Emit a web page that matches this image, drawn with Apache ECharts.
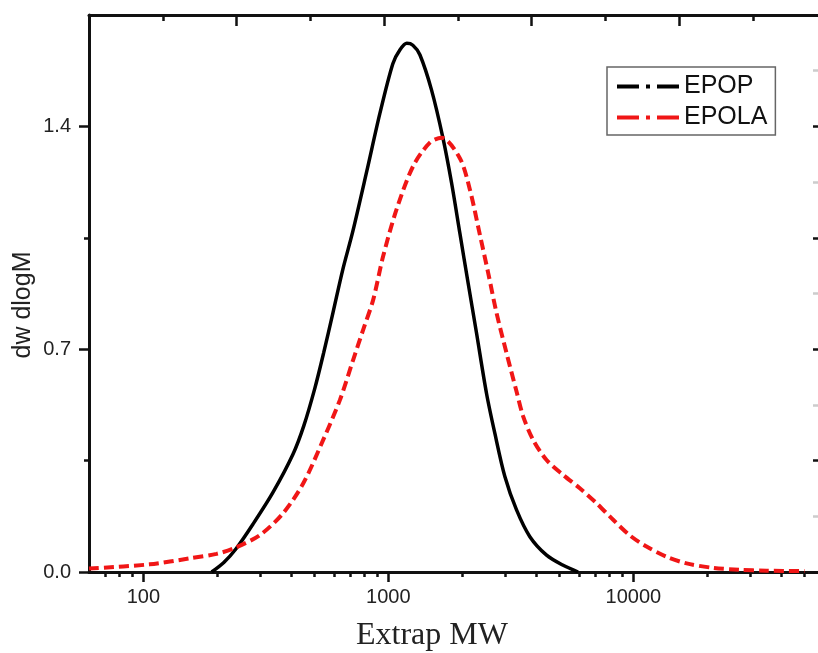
<!DOCTYPE html>
<html>
<head>
<meta charset="utf-8">
<script src="https://cdn.jsdelivr.net/npm/echarts@6/dist/echarts.min.js"></script>
<style>
html,body{margin:0;padding:0;background:#fff;}
#c{width:818px;height:653px;}
</style>
</head>
<body>
<div id="c"></div>
<script>
// ---- data ----
const seriesNames = ['EPOP', 'EPOLA'];
const epopMW  = [190, 213, 239, 280, 338, 408, 452, 501, 545, 594, 652, 716, 817, 923, 1043, 1114, 1190, 1259, 1345, 1501, 1670, 1811, 1958, 2117, 2291, 2516, 2720, 2989, 3336, 3781, 4423, 5170, 5950];
const epopVal = [0, 0.03, 0.073, 0.15, 0.25, 0.37, 0.46, 0.577, 0.69, 0.814, 0.951, 1.07, 1.26, 1.44, 1.597, 1.64, 1.661, 1.655, 1.625, 1.514, 1.364, 1.223, 1.065, 0.907, 0.75, 0.561, 0.436, 0.30, 0.195, 0.111, 0.053, 0.021, 0];
const epolaMW  = [60, 106, 155, 199, 235, 299, 372, 449, 542, 634, 718, 789, 867, 952, 1080, 1262, 1477, 1649, 1958, 2151, 2363, 2555, 2764, 3036, 3336, 3550, 3899, 4423, 5170, 6046, 7075, 8271, 9676, 11320, 13660, 16490, 21170, 27000, 35000, 50000];
const epolaVal = [0.011, 0.024, 0.043, 0.057, 0.075, 0.116, 0.185, 0.278, 0.415, 0.54, 0.666, 0.761, 0.855, 0.992, 1.139, 1.275, 1.349, 1.364, 1.30, 1.202, 1.06, 0.94, 0.814, 0.688, 0.567, 0.489, 0.415, 0.352, 0.305, 0.263, 0.216, 0.164, 0.115, 0.080, 0.048, 0.027, 0.013, 0.007, 0.004, 0.003];

const xMajorTicks = [100, 1000, 10000];
const xMinorTicks = [70, 80, 90, 200, 300, 400, 500, 600, 700, 800, 900, 2000, 3000, 4000, 5000, 6000, 7000, 8000, 9000, 20000, 30000, 40000, 50000];
const topTicksLong = [240, 960, 3840, 15360];
const topTicksShort = [120, 480, 1920, 7680, 30720];
const yMajorTicks = [0, 0.7, 1.4];
const yMinorTicks = [0.35, 1.05];
const rightTicks = [0, 0.35, 0.7, 1.05, 1.4, 1.75];
const rightFaintTicks = [0.175, 0.525, 0.875, 1.225, 1.575];

const xMin = 60, xMax = 60000, yMin = 0, yMax = 1.75;

const pair = (xs, ys) => xs.map((x, i) => [x, ys[i]]);

const chart = echarts.init(document.getElementById('c'), null, {renderer: 'canvas'});
const axisCol = '#111';
const font = 'Liberation Sans, Arial, sans-serif';

function xAx(pos, ticks, len, inside, showLine, labels) {
  return {
    type: 'log', logBase: 10, min: xMin, max: xMax, position: pos,
    axisLine: {show: showLine, onZero: false, lineStyle: {color: axisCol, width: 3}},
    axisTick: {show: true, customValues: ticks, length: len, inside: inside, lineStyle: {color: axisCol, width: 2.5}},
    axisLabel: labels ? {show: true, customValues: labels, fontSize: 20, color: '#222', fontFamily: font, margin: 15,
      formatter: v => String(v)} : {show: false},
    splitLine: {show: false}, minorTick: {show: false}
  };
}
function yAx(pos, ticks, len, inside, showLine, labels, col) {
  return {
    type: 'value', min: yMin, max: yMax, position: pos,
    axisLine: {show: showLine, onZero: false, lineStyle: {color: axisCol, width: 3}},
    axisTick: {show: true, customValues: ticks, length: len, inside: inside, lineStyle: {color: col || axisCol, width: 2.5}},
    axisLabel: labels ? {show: true, customValues: labels, fontSize: 20, color: '#222', fontFamily: font, margin: 18,
      formatter: v => v.toFixed(1)} : {show: false},
    splitLine: {show: false}
  };
}

const legendIcon = 'path://M0,0H22V4H0Z M29,0H33V4H29Z M40,0H62V4H40Z';

chart.setOption({
  animation: false,
  backgroundColor: '#fff',
  grid: {left: 89, width: 735, top: 15, bottom: 81, containLabel: false, outerBoundsMode: 'none'},
  xAxis: [
    xAx('bottom', xMajorTicks, 10, false, true, xMajorTicks),
    xAx('bottom', xMinorTicks, 5, false, false, null),
    xAx('top', topTicksLong, 11, true, true, null),
    xAx('top', topTicksShort, 6, true, false, null)
  ],
  yAxis: [
    yAx('left', yMajorTicks, 10, false, true, yMajorTicks),
    yAx('left', yMinorTicks, 5, false, false, null),
    yAx('right', rightTicks, 11, true, true, null),
    yAx('right', rightFaintTicks, 11, true, false, null, '#ccc')
  ],
  legend: {
    orient: 'vertical', left: 607, top: 67,
    padding: [7, 8, 5, 10],
    itemWidth: 62, itemHeight: 4, itemGap: 6,
    icon: legendIcon,
    backgroundColor: '#fff', borderColor: '#666', borderWidth: 1.5, borderRadius: 0,
    textStyle: {fontSize: 25, color: '#111', fontFamily: font, lineHeight: 25},
    data: seriesNames
  },
  graphic: [
    {type: 'text', x: 432, y: 636, style: {text: 'Extrap MW', font: '32px "Liberation Serif", "Times New Roman", serif', fill: '#222', textAlign: 'center', textVerticalAlign: 'middle'}},
    {type: 'text', x: 23, y: 305, rotation: Math.PI / 2, style: {text: 'dw dlogM', font: '25px "Liberation Sans", Arial, sans-serif', fill: '#222', textAlign: 'center', textVerticalAlign: 'middle'}}
  ],
  series: [
    {name: seriesNames[0], type: 'line', xAxisIndex: 0, yAxisIndex: 0, data: pair(epopMW, epopVal),
     symbol: 'none', smooth: 0.3, lineStyle: {color: '#000', width: 3.5}, itemStyle: {color: '#000'}},
    {name: seriesNames[1], type: 'line', xAxisIndex: 0, yAxisIndex: 0, data: pair(epolaMW, epolaVal),
     symbol: 'none', smooth: 0.3, lineStyle: {color: '#f01616', width: 4, type: [10, 5]}, itemStyle: {color: '#f01616'}}
  ]
});
</script>
</body>
</html>
